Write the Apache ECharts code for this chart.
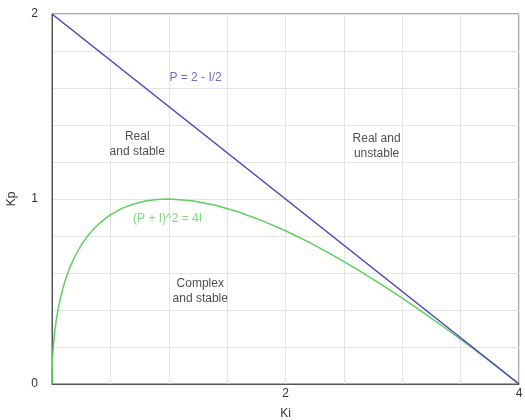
<!DOCTYPE html>
<html>
<head>
<meta charset="utf-8">
<script src="https://cdn.jsdelivr.net/npm/echarts@6/dist/echarts.min.js"></script>
<style>html,body{margin:0;padding:0;background:#fff}#c{width:525px;height:420px}</style>
</head>
<body>
<div id="c"></div>
<script>
// Blue boundary line P = 2 - I/2
var lineKi = [0, 4];
var lineKp = [2, 0];
// Green curve (P + I)^2 = 4I
var curveKi = [0, 0.0002, 0.0005, 0.001, 0.002, 0.003, 0.005, 0.008, 0.012, 0.017, 0.025, 0.035, 0.05, 0.075,
  0.1, 0.125, 0.15, 0.175, 0.2, 0.25, 0.3, 0.35, 0.4, 0.45, 0.5, 0.6, 0.7, 0.8, 0.9, 1.0,
  1.2, 1.4, 1.6, 1.8, 2.0, 2.2, 2.4, 2.6, 2.8, 3.0, 3.2, 3.4, 3.6, 3.8, 4.0];
var curveKp = [0, 0.0281, 0.0442, 0.0622, 0.0874, 0.1065, 0.1364, 0.1709, 0.2071, 0.2438, 0.2912, 0.3392, 0.3972, 0.4727,
  0.5325, 0.5821, 0.6246, 0.6617, 0.6944, 0.75, 0.7954, 0.8332, 0.8649, 0.8916, 0.9142, 0.9492, 0.9733, 0.9889, 0.9974, 1.0,
  0.9909, 0.9664, 0.9298, 0.8833, 0.8284, 0.7665, 0.6984, 0.6249, 0.5466, 0.4641, 0.3777, 0.2878, 0.1947, 0.0987, 0];
// Annotations
var noteText = ['P = 2 - I/2', 'Real\nand stable', 'Real and\nunstable', '(P + I)^2 = 4I', 'Complex\nand stable'];
var noteKi = [1.23, 0.73, 2.78, 0.99, 1.27];
var noteKp = [1.655, 1.295, 1.285, 0.893, 0.50];
var noteKind = ['blue', 'black', 'black', 'green', 'black'];
var xTickLabels = [2, 4];
var yTickLabels = [0, 1, 2];

var BLUE = '#4a42b8', GREEN = '#5fcf5f';
var font = 'Liberation Sans, Arial, sans-serif';
function zip(a, b) { return a.map(function (v, i) { return [v, b[i]]; }); }
function near(v, list) { return list.some(function (t) { return Math.abs(v - t) < 1e-9; }); }

var chart = echarts.init(document.getElementById('c'), null, {renderer: 'canvas'});
chart.setOption({
  animation: false,
  textStyle: {fontFamily: font},
  grid: {left: 52, right: 6, top: 14, bottom: 36, show: true, borderColor: '#555', borderWidth: 1,
    containLabel: false, outerBoundsMode: 'none'},
  xAxis: {
    type: 'value', min: 0, max: 4, interval: 0.5,
    name: 'Ki', nameLocation: 'middle', nameGap: 24,
    nameTextStyle: {color: '#333', fontSize: 12, fontFamily: font},
    axisLine: {lineStyle: {color: '#555'}}, axisTick: {show: false},
    axisLabel: {color: '#333', fontSize: 12, margin: 4, fontFamily: font,
      formatter: function (v) { return near(v, xTickLabels) ? String(Math.round(v)) : ''; }},
    splitLine: {lineStyle: {color: '#e4e4e4'}}
  },
  yAxis: {
    type: 'value', min: 0, max: 2, interval: 0.2,
    name: 'Kp', nameLocation: 'middle', nameGap: 34,
    nameTextStyle: {color: '#333', fontSize: 12, fontFamily: font},
    axisLine: {show: true, lineStyle: {color: '#555'}}, axisTick: {show: false},
    axisLabel: {color: '#333', fontSize: 12, margin: 14, fontFamily: font,
      formatter: function (v) { return near(v, yTickLabels) ? String(Math.round(v)) : ''; }},
    splitLine: {lineStyle: {color: '#e4e4e4'}}
  },
  series: [
    {type: 'line', data: zip(curveKi, curveKp), smooth: false, showSymbol: false,
      lineStyle: {color: GREEN, width: 1.5}, z: 3},
    {type: 'line', data: zip(lineKi, lineKp), showSymbol: false,
      lineStyle: {color: BLUE, width: 1.5}, z: 4},
    {type: 'scatter', symbolSize: 0, silent: true, z: 5,
      data: noteText.map(function (t, i) {
        var c = noteKind[i] === 'blue' ? BLUE : (noteKind[i] === 'green' ? GREEN : '#222');
        return {value: [noteKi[i], noteKp[i]],
          label: {show: true, position: 'inside', formatter: t, color: c, fontSize: 12,
            lineHeight: 15, align: 'center', verticalAlign: 'middle', fontFamily: font}};
      })}
  ]
});
</script>
</body>
</html>
